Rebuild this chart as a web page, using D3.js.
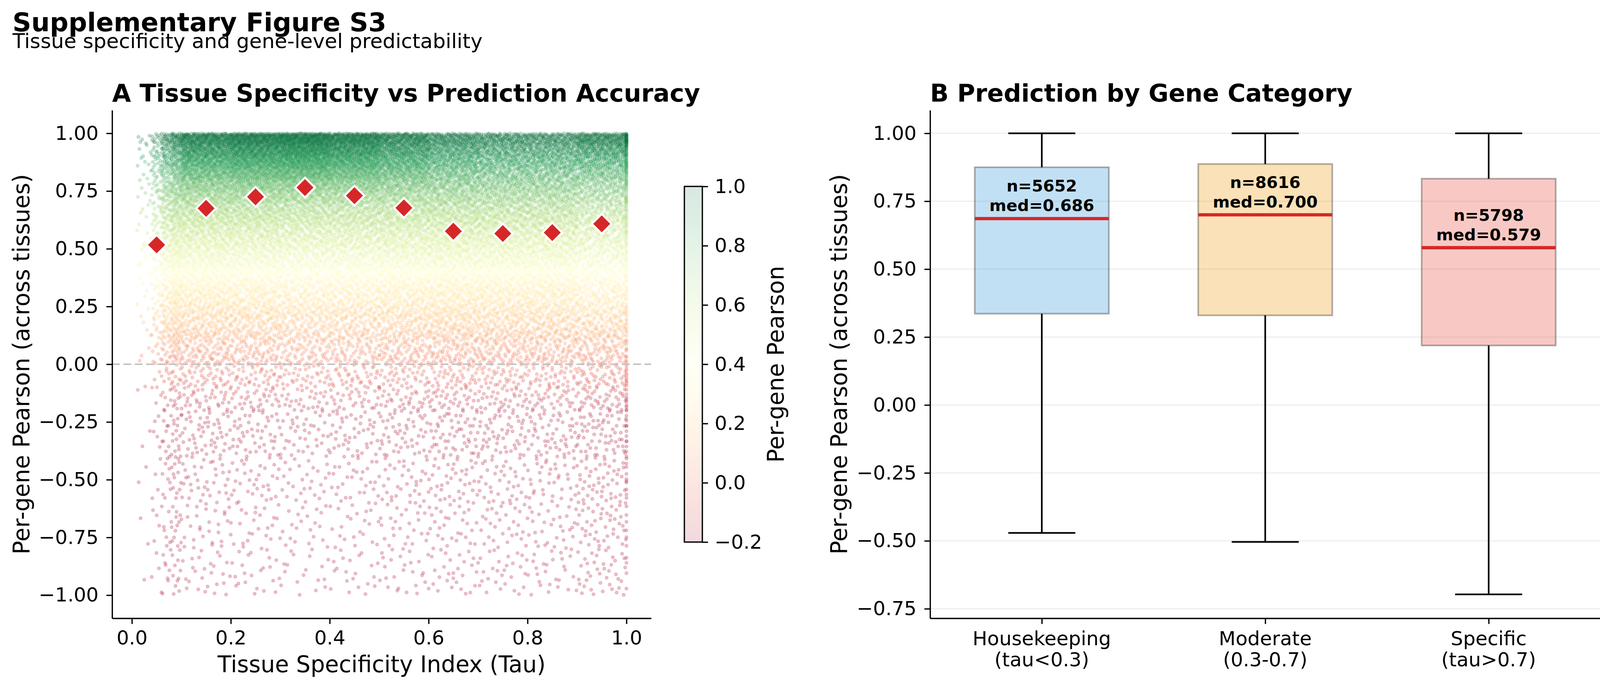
<!DOCTYPE html>
<html>
<head>
<meta charset="utf-8">
<script src="https://cdn.jsdelivr.net/npm/d3@7"></script>
<style>
  html, body { margin: 0; padding: 0; background: #fff; }
  svg { display: block; font-family: "DejaVu Sans", sans-serif; }
</style>
</head>
<body>
<svg id="fig" width="4134" height="1763"></svg>
<script>
/* ── Data ───────────────────────────────────────────────────────── */
// Panel A: point counts per (tau band, pearson band), read from the cloud density
const TAU_EDGES     = [0.01, 0.04, 0.06, 0.08, 0.1, 0.2, 0.3, 0.4, 0.5, 0.6, 0.7, 0.8, 0.9, 1.0];
const PEARSON_EDGES = [-1.0, -0.8, -0.6, -0.4, -0.2, -0.1, 0.0, 0.1, 0.2, 0.3, 0.4, 0.5,
                        0.6, 0.7, 0.75, 0.8, 0.85, 0.9, 0.95, 1.0];
const DENSITY = [
  [ 1,  2,  2,  2,  1,  1,   3,   3,   4,   4,   5,   5,   5,   3,   3,   3,   4,   4,   5],
  [ 4,  4,  4,  5,  3,  3,   7,   8,  10,  10,  13,  12,  13,   7,   8,   8,   9,  10,  12],
  [ 8,  8,  9, 11,  6,  7,  14,  18,  21,  22,  27,  26,  29,  15,  16,  17,  19,  21,  26],
  [11, 12, 13, 15,  9, 10,  20,  25,  29,  32,  38,  36,  40,  22,  22,  23,  26,  29,  38],
  [26, 29, 37, 54, 36, 44,  72, 100, 124, 144, 155, 172, 201, 121, 144, 171, 197, 221, 253],
  [23, 26, 33, 49, 33, 42,  67,  93, 117, 133, 145, 166, 199, 124, 155, 195, 226, 256, 291],
  [18, 21, 28, 41, 28, 37,  58,  81, 104, 115, 127, 150, 184, 120, 156, 207, 242, 276, 310],
  [21, 23, 30, 44, 30, 38,  61,  84, 107, 121, 132, 152, 183, 115, 145, 184, 214, 243, 275],
  [25, 27, 34, 51, 33, 41,  68,  93, 115, 134, 144, 160, 185, 110, 130, 153, 175, 197, 226],
  [29, 31, 39, 56, 37, 43,  74, 101, 123, 146, 156, 167, 189, 107, 117, 125, 141, 155, 181],
  [28, 30, 38, 55, 36, 42,  72,  99, 120, 142, 152, 162, 181, 101, 108, 112, 125, 137, 162],
  [27, 31, 37, 55, 35, 42,  71,  98, 118, 141, 151, 159, 179,  99, 108, 110, 125, 135, 159],
  [40, 44, 50, 64, 42, 52,  74,  92, 101, 107, 114, 125, 140,  84,  92, 115, 135, 165, 205]
];
// genes sitting exactly at tau = 1.0 (column at the right edge)
const EDGE_COUNTS = [4, 6, 9, 12, 8, 9, 8, 8, 8, 9, 9, 10, 12, 7, 8, 9, 11, 14, 24];

// binned medians (red diamonds)
const BIN_TAU    = [0.05, 0.15, 0.25, 0.35, 0.45, 0.55, 0.65, 0.75, 0.85, 0.95];
const BIN_MEDIAN = [0.517, 0.675, 0.725, 0.765, 0.730, 0.677, 0.576, 0.566, 0.570, 0.608];

// Panel B: box statistics
const CATEGORIES = [["Housekeeping", "(tau<0.3)"], ["Moderate", "(0.3-0.7)"], ["Specific", "(tau>0.7)"]];
const BOX_N      = [5652, 8616, 5798];
const BOX_MEDIAN = [0.686, 0.700, 0.579];
const BOX_Q1     = [0.336, 0.330, 0.219];
const BOX_Q3     = [0.875, 0.887, 0.833];
const WHISK_LO   = [-0.471, -0.504, -0.697];
const WHISK_HI   = [1.0, 1.0, 1.0];
const BOX_COLORS = ["#3498db", "#f39c12", "#e74c3c"];

const A_XTICKS  = [0.0, 0.2, 0.4, 0.6, 0.8, 1.0];
const A_YTICKS  = [-1.0, -0.75, -0.5, -0.25, 0.0, 0.25, 0.5, 0.75, 1.0];
const B_YTICKS  = [-0.75, -0.5, -0.25, 0.0, 0.25, 0.5, 0.75, 1.0];
const CB_TICKS  = [-0.2, 0.0, 0.2, 0.4, 0.6, 0.8, 1.0];
const RDYLGN    = ["#a50026", "#d73027", "#f46d43", "#fdae61", "#fee08b", "#ffffbf",
                   "#d9ef8b", "#a6d96a", "#66bd63", "#1a9850", "#006837"];

/* ── Style constants ───────────────────────────────────────────── */
const TICK_FS  = 50;     // 12pt @300dpi
const LABEL_FS = 58;     // 14pt
const TITLE_FS = 62.5;   // 15pt bold
const SPINE_W  = 3.3;
const TICK_LEN = 14.6;
const PT_ALPHA = 0.18;   // scatter points
const CB_ALPHA = 0.15;   // colorbar wash

const svg = d3.select('#fig');

/* ── Scales ─────────────────────────────────────────────────────── */
const xA = d3.scaleLinear([-0.04, 1.05], [287, 1667]);
const yA = d3.scaleLinear([-1.1, 1.1], [1582, 282]);
const xB = d3.scaleLinear([0.5, 3.5], [2381, 4097]);
const yB = d3.scaleLinear([-0.785, 1.085], [1582, 282]);
const yC = d3.scaleLinear([-0.2, 1.0], [1387, 477]);
const color = d3.scaleLinear()
  .domain(RDYLGN.map((_, i) => -0.2 + i * 1.2 / (RDYLGN.length - 1)))
  .range(RDYLGN)
  .clamp(true);

function styleAxis(g) {
  g.select('.domain').attr('stroke', '#000').attr('stroke-width', SPINE_W);
  g.selectAll('.tick line').attr('stroke', '#000').attr('stroke-width', SPINE_W);
  g.selectAll('.tick text')
    .attr('fill', '#000')
    .attr('font-size', TICK_FS)
    .attr('font-family', '"DejaVu Sans", sans-serif');
}

/* ── Figure titles ─────────────────────────────────────────────── */
svg.append('text').attr('x', 32).attr('y', 80)
  .attr('font-size', 66.7).attr('font-weight', 'bold')
  .text('Supplementary Figure S3');
svg.append('text').attr('x', 32).attr('y', 123)
  .attr('font-size', 52)
  .text('Tissue specificity and gene-level predictability');

/* ── Panel A: scatter ──────────────────────────────────────────── */
// spread the counted points over their cell with a Halton sequence
function halton(i, b) {
  let f = 1, r = 0;
  while (i > 0) { f /= b; r += f * (i % b); i = Math.floor(i / b); }
  return r;
}

const points = [];
let k = 0;
DENSITY.forEach((row, i) => {
  row.forEach((n, j) => {
    for (let m = 0; m < n; m++) {
      k++;
      points.push({
        tau: TAU_EDGES[i] + halton(k, 2) * (TAU_EDGES[i + 1] - TAU_EDGES[i]),
        r:   PEARSON_EDGES[j] + halton(k, 3) * (PEARSON_EDGES[j + 1] - PEARSON_EDGES[j])
      });
    }
  });
});
EDGE_COUNTS.forEach((n, j) => {
  for (let m = 0; m < n; m++) {
    k++;
    points.push({
      tau: 1.0,
      r: PEARSON_EDGES[j] + halton(k, 3) * (PEARSON_EDGES[j + 1] - PEARSON_EDGES[j])
    });
  }
});
// mix drawing order so no band sits systematically on top
const ord = p => halton(Math.floor(p.tau * 7919 + p.r * 104729 + 2e5), 5);
points.sort((a, b) => ord(a) - ord(b));

const gA = svg.append('g');
gA.append('g').selectAll('circle')
  .data(points)
  .join('circle')
  .attr('cx', d => xA(d.tau))
  .attr('cy', d => yA(d.r))
  .attr('r', 3.5)
  .attr('fill', d => color(d.r))
  .attr('fill-opacity', PT_ALPHA)
  .attr('stroke', d => color(d.r))
  .attr('stroke-opacity', PT_ALPHA)
  .attr('stroke-width', 3.5);

// zero reference line
gA.append('line')
  .attr('x1', xA.range()[0]).attr('x2', xA.range()[1])
  .attr('y1', yA(0)).attr('y2', yA(0))
  .attr('stroke', '#c4c4c4').attr('stroke-width', 4.2)
  .attr('stroke-dasharray', '20 9');

// binned medians
gA.append('g').selectAll('path')
  .data(BIN_TAU.map((t, i) => ({ t, m: BIN_MEDIAN[i] })))
  .join('path')
  .attr('transform', d => `translate(${xA(d.t)},${yA(d.m)})`)
  .attr('d', 'M0,-25.4L25.4,0L0,25.4L-25.4,0Z')
  .attr('fill', '#d62728')
  .attr('stroke', '#fff')
  .attr('stroke-width', 5.2)
  .attr('stroke-linejoin', 'miter');

// axes
svg.append('g').attr('transform', `translate(0,${yA.range()[0]})`)
  .call(d3.axisBottom(xA).tickValues(A_XTICKS).tickFormat(d3.format('.1f'))
    .tickSize(TICK_LEN).tickSizeOuter(0).tickPadding(17))
  .call(styleAxis);
svg.append('g').attr('transform', `translate(${xA.range()[0]},0)`)
  .call(d3.axisLeft(yA).tickValues(A_YTICKS).tickFormat(d3.format('.2f'))
    .tickSize(TICK_LEN).tickSizeOuter(0).tickPadding(20))
  .call(styleAxis);

svg.append('text')
  .attr('x', (xA.range()[0] + xA.range()[1]) / 2).attr('y', 1720)
  .attr('text-anchor', 'middle').attr('font-size', LABEL_FS)
  .text('Tissue Specificity Index (Tau)');
svg.append('text')
  .attr('transform', `translate(75,${(yA.range()[0] + yA.range()[1]) / 2}) rotate(-90)`)
  .attr('text-anchor', 'middle').attr('font-size', LABEL_FS)
  .text('Per-gene Pearson (across tissues)');
svg.append('text').attr('x', xA.range()[0]).attr('y', 260)
  .attr('font-size', TITLE_FS).attr('font-weight', 'bold')
  .text('A  Tissue Specificity vs Prediction Accuracy');

/* ── Colorbar ─────────────────────────────────────────────────── */
const CB_X0 = 1752, CB_X1 = 1798;
const grad = svg.append('defs').append('linearGradient')
  .attr('id', 'cbgrad').attr('x1', 0).attr('y1', 1).attr('x2', 0).attr('y2', 0);
d3.range(0, 1.0001, 0.05).forEach(t => {
  grad.append('stop')
    .attr('offset', t)
    .attr('stop-color', color(-0.2 + t * 1.2))
    .attr('stop-opacity', CB_ALPHA);
});
svg.append('rect')
  .attr('x', CB_X0).attr('y', yC.range()[1])
  .attr('width', CB_X1 - CB_X0).attr('height', yC.range()[0] - yC.range()[1])
  .attr('fill', 'url(#cbgrad)')
  .attr('stroke', '#000').attr('stroke-width', SPINE_W);
svg.append('g').attr('transform', `translate(${CB_X1},0)`)
  .call(d3.axisRight(yC).tickValues(CB_TICKS).tickFormat(d3.format('.1f'))
    .tickSize(TICK_LEN).tickSizeOuter(0).tickPadding(17))
  .call(styleAxis)
  .call(g => g.select('.domain').remove());
svg.append('text')
  .attr('transform', `translate(2006,${(yC.range()[0] + yC.range()[1]) / 2}) rotate(-90)`)
  .attr('text-anchor', 'middle').attr('font-size', LABEL_FS)
  .text('Per-gene Pearson');

/* ── Panel B: box plot ────────────────────────────────────────── */
const gB = svg.append('g');
gB.append('g').selectAll('line')
  .data(B_YTICKS)
  .join('line')
  .attr('x1', xB.range()[0]).attr('x2', xB.range()[1])
  .attr('y1', d => yB(d)).attr('y2', d => yB(d))
  .attr('stroke', '#b0b0b0').attr('stroke-opacity', 0.2).attr('stroke-width', 3.3);

const boxes = CATEGORIES.map((c, i) => ({
  pos: i + 1, n: BOX_N[i], med: BOX_MEDIAN[i], q1: BOX_Q1[i], q3: BOX_Q3[i],
  lo: WHISK_LO[i], hi: WHISK_HI[i], col: BOX_COLORS[i]
}));
const HALF = 0.3, CAP = 0.15;
const bx = gB.append('g').selectAll('g').data(boxes).join('g');

bx.append('rect')
  .attr('x', d => xB(d.pos - HALF))
  .attr('width', d => xB(d.pos + HALF) - xB(d.pos - HALF))
  .attr('y', d => yB(d.q3))
  .attr('height', d => yB(d.q1) - yB(d.q3))
  .attr('fill', d => d.col).attr('fill-opacity', 0.3)
  .attr('stroke', '#000').attr('stroke-opacity', 0.3).attr('stroke-width', 4.2);
// whiskers
bx.append('line')
  .attr('x1', d => xB(d.pos)).attr('x2', d => xB(d.pos))
  .attr('y1', d => yB(d.q3)).attr('y2', d => yB(d.hi))
  .attr('stroke', '#000').attr('stroke-width', 4.2);
bx.append('line')
  .attr('x1', d => xB(d.pos)).attr('x2', d => xB(d.pos))
  .attr('y1', d => yB(d.q1)).attr('y2', d => yB(d.lo))
  .attr('stroke', '#000').attr('stroke-width', 4.2);
// caps
['hi', 'lo'].forEach(key => {
  bx.append('line')
    .attr('x1', d => xB(d.pos - CAP)).attr('x2', d => xB(d.pos + CAP))
    .attr('y1', d => yB(d[key])).attr('y2', d => yB(d[key]))
    .attr('stroke', '#000').attr('stroke-width', 4.2);
});
// medians
bx.append('line')
  .attr('x1', d => xB(d.pos - HALF)).attr('x2', d => xB(d.pos + HALF))
  .attr('y1', d => yB(d.med)).attr('y2', d => yB(d.med))
  .attr('stroke', '#d62728').attr('stroke-width', 8.3);
// annotations
const ann = bx.append('text')
  .attr('text-anchor', 'middle')
  .attr('font-size', 41.7).attr('font-weight', 'bold');
ann.append('tspan')
  .attr('x', d => xB(d.pos)).attr('y', d => yB(d.med + 0.085) - 10)
  .text(d => `n=${d.n}`);
ann.append('tspan')
  .attr('x', d => xB(d.pos)).attr('y', d => yB(d.med + 0.085) + 40)
  .text(d => `med=${d3.format('.3f')(d.med)}`);

// axes
svg.append('g').attr('transform', `translate(0,${yB.range()[0]})`)
  .call(d3.axisBottom(xB).tickValues([1, 2, 3]).tickFormat('')
    .tickSize(TICK_LEN).tickSizeOuter(0))
  .call(styleAxis);
svg.append('g').attr('transform', `translate(${xB.range()[0]},0)`)
  .call(d3.axisLeft(yB).tickValues(B_YTICKS).tickFormat(d3.format('.2f'))
    .tickSize(TICK_LEN).tickSizeOuter(0).tickPadding(20))
  .call(styleAxis);

const xl = svg.append('g').selectAll('text').data(CATEGORIES).join('text')
  .attr('text-anchor', 'middle').attr('font-size', TICK_FS);
xl.append('tspan').attr('x', (d, i) => xB(i + 1)).attr('y', 1651).text(d => d[0]);
xl.append('tspan').attr('x', (d, i) => xB(i + 1)).attr('y', 1705).text(d => d[1]);

svg.append('text')
  .attr('transform', `translate(2168,${(yB.range()[0] + yB.range()[1]) / 2}) rotate(-90)`)
  .attr('text-anchor', 'middle').attr('font-size', LABEL_FS)
  .text('Per-gene Pearson (across tissues)');
svg.append('text').attr('x', xB.range()[0]).attr('y', 260)
  .attr('font-size', TITLE_FS).attr('font-weight', 'bold')
  .text('B  Prediction by Gene Category');
</script>
</body>
</html>
